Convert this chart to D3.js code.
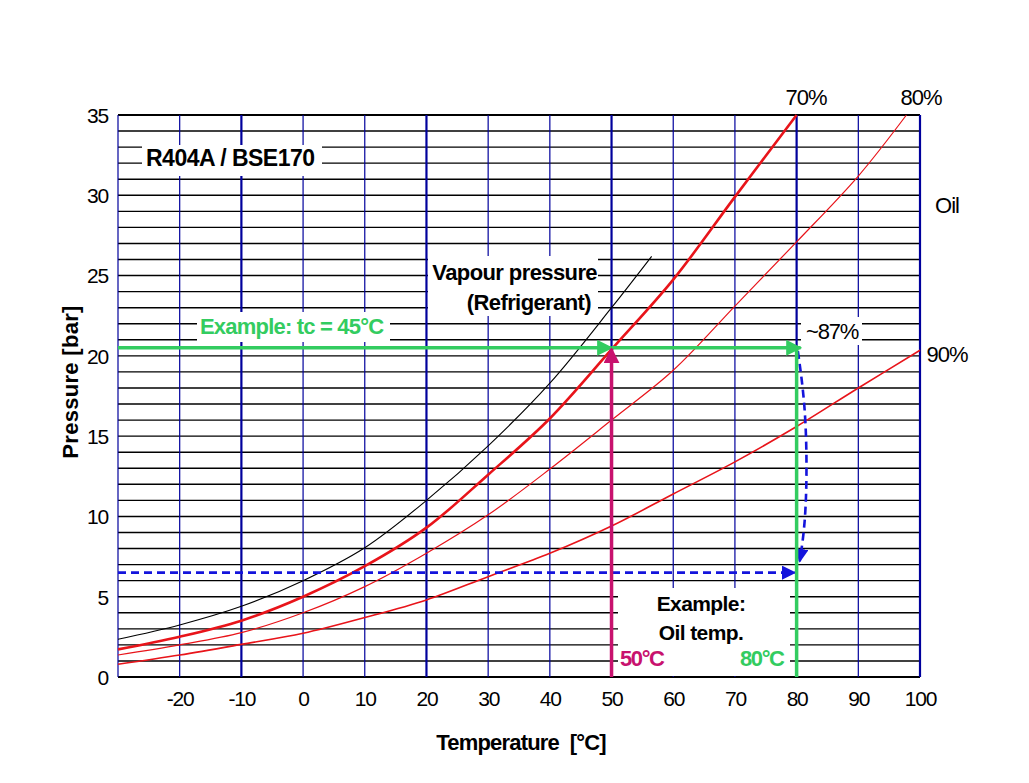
<!DOCTYPE html>
<html>
<head>
<meta charset="utf-8">
<script src="https://cdn.jsdelivr.net/npm/d3@7"></script>
<style>
  body { margin: 0; background: #fff; }
  svg text { font-family: "Liberation Sans", Arial, sans-serif; white-space: pre; }
</style>
</head>
<body>
<svg id="chart"></svg>
<script>
// R404A / BSE170 oil pressure-temperature chart

const width = 1029;
const height = 783;

// data
const vapourTemps = [-30, -20, -10, 0, 10, 20, 30, 40, 50, 56.5];
const vapourPressure = [2.35, 3.24, 4.4, 6.0, 8.05, 11.0, 14.4, 18.3, 23.0, 26.2];

const oil70Temps = [-30, -20, -10, 0, 10, 20, 30, 40, 50, 60, 70, 80];
const oil70Pressure = [1.72, 2.51, 3.51, 5.0, 6.9, 9.3, 12.6, 16.1, 20.4, 24.75, 29.9, 35.0];

const oil80Temps = [-30, -20, -10, 0, 10, 20, 30, 40, 50, 60, 70, 80, 90, 97.8];
const oil80Pressure = [1.37, 2.0, 2.76, 4.0, 5.63, 7.71, 10.1, 12.95, 16.0, 19.1, 23.1, 27.1, 31.2, 35.0];

const oil90Temps = [-30, -20, -10, 0, 10, 20, 30, 40, 50, 60, 70, 80, 90, 100];
const oil90Pressure = [0.79, 1.37, 2.03, 2.72, 3.7, 4.8, 6.25, 7.7, 9.4, 11.4, 13.4, 15.6, 18.0, 20.35];

const xTickLabels = [-20, -10, 0, 10, 20, 30, 40, 50, 60, 70, 80, 90, 100];
const yTickLabels = [0, 5, 10, 15, 20, 25, 30, 35];

// example reading
const exampleTc = 50;          // condensing temp line
const examplePressure = 20.5;  // bar
const exampleOilTemp = 80;
const exampleOutPressure = 6.5;
const dashedCurveT = [80.2, 81.4, 81.7, 81.4, 80.5];
const dashedCurveP = [20.3, 17.0, 13.0, 9.5, 7.2];

const svg = d3.select("#chart")
  .attr("width", width)
  .attr("height", height);

const x = d3.scaleLinear().domain([-30, 100]).range([118, 920]);
const y = d3.scaleLinear().domain([0, 35]).range([677, 115]);

const colors = {
  grid: "#00009c",
  red: "#e8141a",
  green: "#33cc60",
  magenta: "#c8126e",
  blue: "#1414dc"
};

// arrow markers
const defs = svg.append("defs");
function marker(id, color, size) {
  defs.append("marker")
    .attr("id", id)
    .attr("viewBox", "0 0 10 10")
    .attr("refX", 9)
    .attr("refY", 5)
    .attr("markerUnits", "userSpaceOnUse")
    .attr("markerWidth", size)
    .attr("markerHeight", size)
    .attr("orient", "auto")
    .append("path")
    .attr("d", "M0,0 L10,5 L0,10 Z")
    .attr("fill", color);
}
marker("arrGreen", colors.green, 16);
marker("arrMagenta", colors.magenta, 16);
marker("arrBlue", colors.blue, 14);

// horizontal grid, every 1 bar
const grid = svg.append("g");
grid.selectAll("line.h")
  .data(d3.range(0, 36))
  .enter()
  .append("line")
  .attr("class", "h")
  .attr("x1", x(-30))
  .attr("x2", x(100))
  .attr("y1", function (d) { return y(d); })
  .attr("y2", function (d) { return y(d); })
  .attr("stroke", "#000")
  .attr("stroke-width", function (d) { return (d === 0 || d === 35) ? 2.2 : 1.4; });

// vertical grid, every 10 °C
grid.selectAll("line.v")
  .data(d3.range(-30, 101, 10))
  .enter()
  .append("line")
  .attr("class", "v")
  .attr("x1", function (d) { return x(d); })
  .attr("x2", function (d) { return x(d); })
  .attr("y1", y(35))
  .attr("y2", y(0))
  .attr("stroke", colors.grid)
  .attr("stroke-width", function (d) {
    return [-10, 20, 50, 80, 100].indexOf(d) >= 0 ? 2.2 : 1.2;
  });

// white label boxes hiding the grid
function box(x0, y0, w, h) {
  svg.append("rect")
    .attr("x", x0).attr("y", y0)
    .attr("width", w).attr("height", h)
    .attr("fill", "#fff");
}
box(142, 145, 180, 31);   // R404A / BSE170
box(428, 256, 170, 60);   // Vapour pressure
box(197, 312, 193, 30);   // Example tc
box(801, 317, 61, 28);    // ~87%
box(618, 588, 172, 88);   // Example oil temp

// curves
const line = d3.line()
  .x(function (d) { return x(d[0]); })
  .y(function (d) { return y(d[1]); })
  .curve(d3.curveCatmullRom);

function pairs(ts, ps) { return ts.map(function (t, i) { return [t, ps[i]]; }); }

const curves = svg.append("g").attr("fill", "none");
curves.append("path")
  .attr("d", line(pairs(vapourTemps, vapourPressure)))
  .attr("stroke", "#000").attr("stroke-width", 1.1);
curves.append("path")
  .attr("d", line(pairs(oil90Temps, oil90Pressure)))
  .attr("stroke", colors.red).attr("stroke-width", 1.6);
curves.append("path")
  .attr("d", line(pairs(oil80Temps, oil80Pressure)))
  .attr("stroke", colors.red).attr("stroke-width", 1.2);
curves.append("path")
  .attr("d", line(pairs(oil70Temps, oil70Pressure)))
  .attr("stroke", colors.red).attr("stroke-width", 2.6);

// example annotation
const ann = svg.append("g").attr("fill", "none");

// blue dashed
ann.append("line")
  .attr("x1", x(-30)).attr("x2", x(exampleOilTemp) - 2)
  .attr("y1", y(exampleOutPressure)).attr("y2", y(exampleOutPressure))
  .attr("stroke", colors.blue).attr("stroke-width", 2.6)
  .attr("stroke-dasharray", "8,5")
  .attr("marker-end", "url(#arrBlue)");
const dashedLine = d3.line()
  .x(function (d) { return x(d[0]); })
  .y(function (d) { return y(d[1]); })
  .curve(d3.curveBasis);
ann.append("path")
  .attr("d", dashedLine(pairs(dashedCurveT, dashedCurveP)))
  .attr("stroke", colors.blue).attr("stroke-width", 2.6)
  .attr("stroke-dasharray", "8,5")
  .attr("marker-end", "url(#arrBlue)");

// green tc line
ann.append("line")
  .attr("x1", x(-30)).attr("x2", x(exampleTc))
  .attr("y1", y(examplePressure)).attr("y2", y(examplePressure))
  .attr("stroke", colors.green).attr("stroke-width", 3.5)
  .attr("marker-end", "url(#arrGreen)");
ann.append("line")
  .attr("x1", x(exampleTc)).attr("x2", x(exampleOilTemp) + 4)
  .attr("y1", y(examplePressure)).attr("y2", y(examplePressure))
  .attr("stroke", colors.green).attr("stroke-width", 3.5)
  .attr("marker-end", "url(#arrGreen)");
ann.append("line")
  .attr("x1", x(exampleOilTemp)).attr("x2", x(exampleOilTemp))
  .attr("y1", y(examplePressure)).attr("y2", y(0))
  .attr("stroke", colors.green).attr("stroke-width", 3.5);

// magenta 50 °C arrow
ann.append("line")
  .attr("x1", x(exampleTc)).attr("x2", x(exampleTc))
  .attr("y1", y(0)).attr("y2", y(examplePressure) + 1)
  .attr("stroke", colors.magenta).attr("stroke-width", 3.5)
  .attr("marker-end", "url(#arrMagenta)");

// axes (labels only)
const plain = function (d) { return String(d); };
const xAxis = svg.append("g")
  .attr("transform", "translate(0," + y(0) + ")")
  .call(d3.axisBottom(x).tickValues(xTickLabels).tickFormat(plain).tickSize(0).tickPadding(14));
const yAxis = svg.append("g")
  .attr("transform", "translate(" + x(-30) + ",0)")
  .call(d3.axisLeft(y).tickValues(yTickLabels).tickFormat(plain).tickSize(0).tickPadding(10));

[xAxis, yAxis].forEach(function (a) {
  a.select(".domain").remove();
  a.selectAll("text")
    .attr("fill", "#000")
    .style("font-size", "21px")
    .style("letter-spacing", "-1.2px");
});
yAxis.selectAll("text").attr("dy", "0.35em");

// text
function label(txt, tx, ty, opts) {
  opts = opts || {};
  return svg.append("text")
    .attr("x", tx).attr("y", ty)
    .attr("text-anchor", opts.anchor || "start")
    .attr("fill", opts.color || "#000")
    .style("font-size", (opts.size || 20) + "px")
    .style("font-weight", opts.bold ? "bold" : "normal")
    .style("letter-spacing", (opts.ls || 0) + "px")
    .text(txt);
}

label("R404A / BSE170", 146, 166, { bold: true, size: 23, ls: -0.5 });
label("Vapour pressure", 597, 280, { bold: true, size: 22, anchor: "end", ls: -0.6 });
label("(Refrigerant)", 591, 310, { bold: true, size: 22, anchor: "end", ls: -0.6 });
label("Example: tc = 45°C", 200, 334, { bold: true, size: 22, color: colors.green, ls: -0.8 });
label("~87%", 806, 339, { size: 22, ls: -1.2 });
label("Example:", 701, 611, { bold: true, size: 21, anchor: "middle", ls: -0.6 });
label("Oil temp.", 701, 640, { bold: true, size: 21, anchor: "middle", ls: -0.6 });
label("50°C", 620, 666, { bold: true, size: 22, color: colors.magenta, ls: -1.4 });
label("80°C", 740, 666, { bold: true, size: 22, color: colors.green, ls: -1.4 });

label("70%", 806, 105, { size: 22, anchor: "middle", ls: -1 });
label("80%", 921, 105, { size: 22, anchor: "middle", ls: -1 });
label("Oil", 947, 213, { size: 22, anchor: "middle", ls: -1 });
label("90%", 947, 362, { size: 22, anchor: "middle", ls: -1 });

label("Temperature  [°C]", 521, 750, { bold: true, size: 22, anchor: "middle", ls: -0.8 });
svg.append("text")
  .attr("transform", "translate(78,382) rotate(-90)")
  .attr("text-anchor", "middle")
  .style("font-size", "22px")
  .style("font-weight", "bold")
  .style("letter-spacing", "0.3px")
  .text("Pressure [bar]");
</script>
</body>
</html>
